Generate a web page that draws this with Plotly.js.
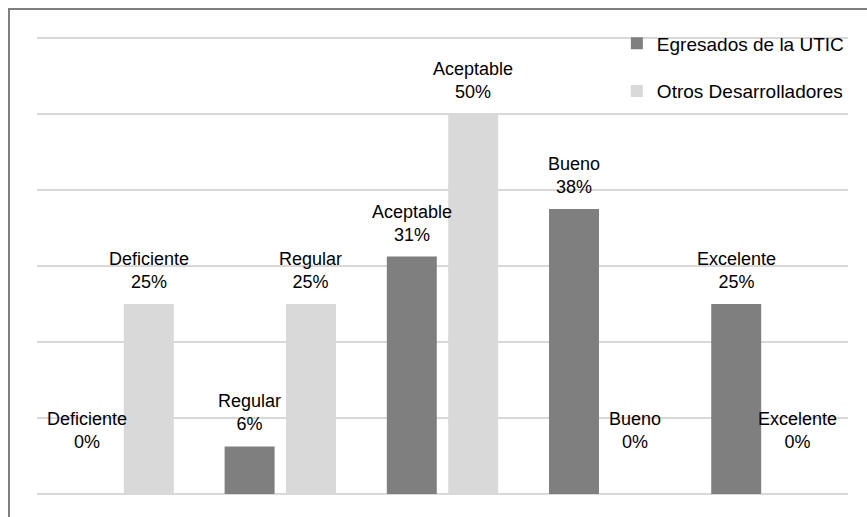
<!DOCTYPE html>
<html>
<head>
<meta charset="utf-8">
<script src="https://cdn.plot.ly/plotly-3.0.1.min.js"></script>
<style>
  html, body { margin: 0; padding: 0; background: #fff; }
  #wrap { position: relative; width: 867px; height: 517px; overflow: hidden; }
  #frame { position: absolute; left: 8px; top: 8px; width: 880px; height: 540px; border: 2px solid #7f7f7f; box-sizing: border-box; pointer-events: none; }
  #chart { position: absolute; left: 0; top: 0; width: 867px; height: 517px; }
</style>
</head>
<body>
<div id="wrap">
  <div id="chart"></div>
  <div id="frame"></div>
</div>
<script>
const categories = ['Deficiente', 'Regular', 'Aceptable', 'Bueno', 'Excelente'];
const seriesNames = ['Egresados de la UTIC', 'Otros Desarrolladores'];
const egresados = [0, 6.25, 31.25, 37.5, 25];
const otros = [25, 25, 50, 0, 0];

const W = 867, H = 517;
const margin = { l: 37, r: 19, t: 36, b: 21, pad: 0 };
const bargap = 0.243, bargroupgap = 0.186;
const colors = ['#7f7f7f', '#d9d9d9'];
const fontFam = 'Liberation Sans, Arial, sans-serif';

const traces = [egresados, otros].map((vals, i) => ({
  type: 'bar',
  name: seriesNames[i],
  x: categories,
  y: vals,
  marker: { color: colors[i], line: { width: 0 } },
  legendgroup: 'g' + i,
  hoverinfo: 'skip'
}));

// label annotations derived from data
const plotW = W - margin.l - margin.r;
const catW = plotW / categories.length;
const slot = catW * (1 - bargap) / 2;
const annotations = [];
[egresados, otros].forEach((vals, i) => {
  vals.forEach((v, j) => {
    annotations.push({
      x: categories[j], y: v, xref: 'x', yref: 'y',
      xshift: (i === 0 ? -1 : 1) * slot / 2,
      yshift: v === 0 ? 40 : 10,
      yanchor: 'bottom', xanchor: 'center',
      showarrow: false,
      text: categories[j] + '<br>' + Math.round(v) + '%',
      font: { family: fontFam, size: 18, color: '#000' }
    });
  });
});

const layout = {
  width: W, height: H,
  margin: margin,
  paper_bgcolor: '#fff', plot_bgcolor: '#fff',
  barmode: 'group', bargap: bargap, bargroupgap: bargroupgap,
  xaxis: { showticklabels: false, showgrid: false, zeroline: false, showline: false, ticks: '', fixedrange: true },
  yaxis: { range: [-0.27, 60.27], tickvals: [0, 10, 20, 30, 40, 50, 60], showticklabels: false, showgrid: true, gridcolor: '#d9d9d9', gridwidth: 1.5, zeroline: false, showline: false, ticks: '', fixedrange: true },
  showlegend: true,
  legend: {
    x: 0.715, y: 1.025, xanchor: 'left', yanchor: 'top',
    bgcolor: 'rgba(255,255,255,0)',
    font: { family: fontFam, size: 19, color: '#000' },
    tracegroupgap: 20, traceorder: 'grouped'
  },
  annotations: annotations,
  font: { family: fontFam }
};

Plotly.newPlot('chart', traces, layout, { displayModeBar: false, staticPlot: true });
</script>
</body>
</html>
